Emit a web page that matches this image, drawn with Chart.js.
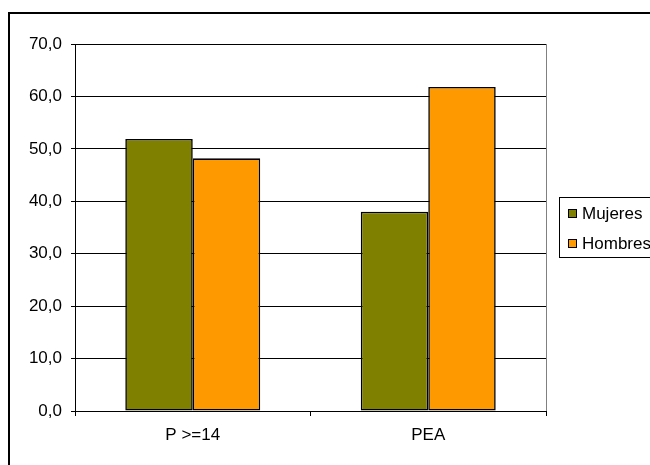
<!DOCTYPE html>
<html>
<head>
<meta charset="utf-8">
<script src="https://cdn.jsdelivr.net/npm/chart.js@4/dist/chart.umd.min.js"></script>
<style>
  html, body { margin: 0; padding: 0; background: #fff; }
  canvas { display: block; }
</style>
</head>
<body>
<canvas id="grafico" width="650" height="465"></canvas>
<script>
const categorias = ['P >=14', 'PEA'];
const mujeres = [51.9, 38.0];
const hombres = [48.2, 61.8];
const series = ['Mujeres', 'Hombres'];
const colores = ['#808000', '#FF9900'];
const fuente = '"Liberation Sans", Arial, sans-serif';

function formatoComa(v) {
  return Number(v).toFixed(1).replace('.', ',');
}

// marco exterior, borde derecho del área y leyenda con caja
const marco = {
  id: 'marco',
  beforeDraw(chart) {
    const c = chart.ctx;
    c.save();
    c.fillStyle = '#fff';
    c.fillRect(0, 0, chart.width, chart.height);
    c.restore();
  },
  afterDraw(chart) {
    const c = chart.ctx;
    const a = chart.chartArea;
    c.save();
    // borde derecho del área de trazado
    c.strokeStyle = '#808080';
    c.lineWidth = 1;
    c.beginPath();
    c.moveTo(Math.round(a.right) + 0.5, a.top);
    c.lineTo(Math.round(a.right) + 0.5, a.bottom);
    c.stroke();

    // marco del gráfico
    c.strokeStyle = '#000';
    c.lineWidth = 2;
    c.beginPath();
    c.moveTo(9, chart.height + 5);
    c.lineTo(9, 13);
    c.lineTo(chart.width + 5, 13);
    c.stroke();

    // leyenda
    c.lineWidth = 1;
    c.strokeRect(559.5, 197.5, 120, 60);
    c.font = '17px ' + fuente;
    c.textBaseline = 'middle';
    c.textAlign = 'left';
    chart.data.datasets.forEach((ds, i) => {
      const y = 213 + i * 30;
      c.fillStyle = ds.backgroundColor;
      c.fillRect(568, y - 4, 9, 9);
      c.strokeStyle = '#000';
      c.strokeRect(568.5, y - 3.5, 8, 8);
      c.fillStyle = '#000';
      c.fillText(ds.label, 582, y + 1);
    });
    c.restore();
  }
};

new Chart(document.getElementById('grafico'), {
  type: 'bar',
  data: {
    labels: categorias,
    datasets: [
      { label: series[0], data: mujeres, backgroundColor: colores[0], borderColor: '#000', borderWidth: 1.6, borderSkipped: false },
      { label: series[1], data: hombres, backgroundColor: colores[1], borderColor: '#000', borderWidth: 1.6, borderSkipped: false }
    ]
  },
  options: {
    responsive: false,
    animation: false,
    categoryPercentage: 0.573,
    barPercentage: 1,
    layout: { padding: { left: 0, top: 44, right: 104, bottom: 0 } },
    plugins: {
      legend: { display: false },
      tooltip: { enabled: false }
    },
    scales: {
      x: {
        afterFit(s) { s.height = 54; },
        grid: { display: true, drawOnChartArea: false, drawTicks: true, tickLength: 5, color: '#000' },
        border: { display: true, color: '#000', width: 1 },
        ticks: { color: '#000', font: { family: fuente, size: 17 }, padding: 9 }
      },
      y: {
        min: 0,
        max: 70,
        afterFit(s) { s.width = 75; },
        grid: { color: '#000', lineWidth: 1, tickLength: 4 },
        border: { display: true, color: '#000', width: 1 },
        ticks: {
          stepSize: 10,
          color: '#000',
          padding: 9,
          font: { family: fuente, size: 17 },
          callback: v => formatoComa(v)
        }
      }
    }
  },
  plugins: [marco]
});
</script>
</body>
</html>
